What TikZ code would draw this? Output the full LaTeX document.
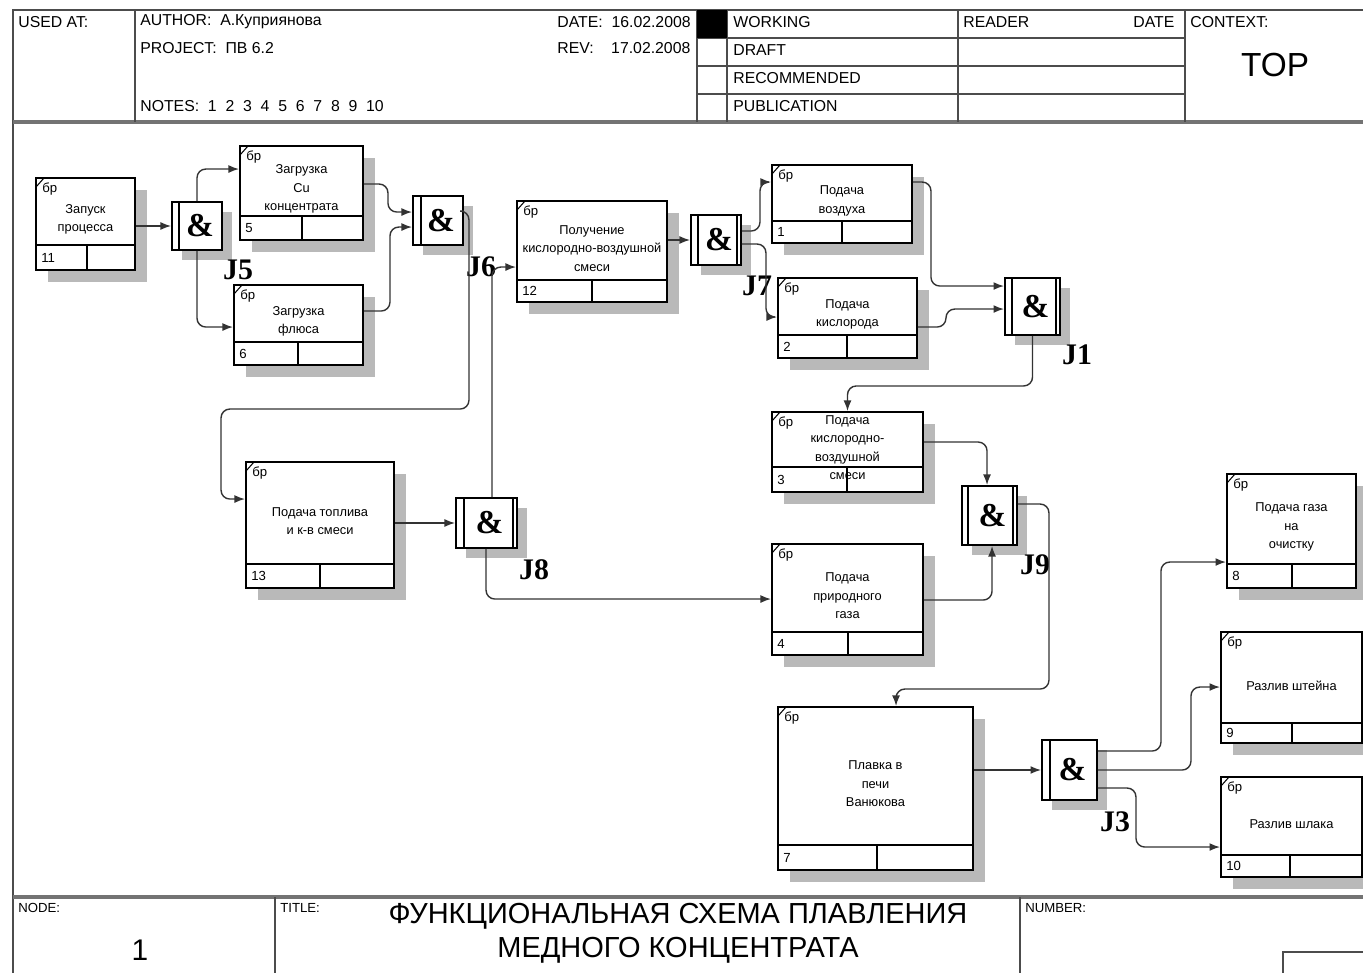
\documentclass[tikz,border=0pt]{standalone}
\usepackage{fontspec}
\setmainfont{Liberation Sans}
\newfontfamily\jfont{Liberation Serif}
\usetikzlibrary{arrows.meta, positioning, calc, fit}

\tikzset{
  frame/.style={draw=black!70, line width=0.9pt},
  heavy/.style={draw=black!55, line width=1.8pt},
  hdr/.style={font=\fontsize{9}{10}\selectfont, anchor=west, inner sep=0pt},
  uob/.style={draw=black, line width=1.1pt, fill=white, inner sep=0pt},
  uobline/.style={draw=black, line width=1pt},
  uobtext/.style={font=\fontsize{7.3}{10.5}\selectfont, align=center, inner sep=0pt},
  uobnum/.style={font=\fontsize{7.5}{8}\selectfont, anchor=west, inner sep=0pt},
  uobtag/.style={font=\fontsize{7.5}{8}\selectfont, anchor=north west, inner sep=0pt},
  dropshadow/.style={fill=gray!55},
  jbox/.style={draw=black, line width=1.1pt, fill=white, inner sep=0pt},
  amp/.style={font=\jfont\bfseries\fontsize{19}{19}\selectfont, inner sep=0pt},
  jlabel/.style={font=\jfont\bfseries\fontsize{17}{17}\selectfont, inner sep=0pt},
  arr/.style={-{Latex[length=6pt, width=4.5pt]}, line width=0.8pt, draw=black!80, rounded corners=5pt},
}

% unit of behaviour: name, x1, y1, x2, y2, strip y, divider x, number, text
\newcommand{\uob}[9]{%
  \fill[dropshadow] (#2+12,#3+12) rectangle (#4+12,#5+12);
  \node[uob, fit={(#2,#3) (#4,#5)}] (#1) {};
  \draw[uobline] (#2,#6) -- (#4,#6) (#7,#6) -- (#7,#5);
  \node[uobnum] at (#2+5,{(#6+#5)/2}) {#8};
  \node[uobtext] at ({(#2+#4)/2},{(#3+#6)/2+8}) {#9};
  \draw[line width=0.6pt] (#2,#3+9) -- (#2+8,#3);
  \node[uobtag] at (#2+6,#3+4) {бр};
}

% junction: name, x1, y1, x2, y2
\newcommand{\junc}[5]{%
  \fill[dropshadow] (#2+10,#3+10) rectangle (#4+10,#5+10);
  \node[jbox, fit={(#2,#3) (#4,#5)}] (#1) {};
  \node[amp] at ({(#2+#4)/2+3},{(#3+#5)/2}) {\&};
}

\begin{document}
\begin{tikzpicture}[x=0.02cm, y=-0.02cm]
  \useasboundingbox (0,0) rectangle (1363,973);

  % Header frame
  \draw[frame] (13,973) -- (13,10) -- (1363,10);
  \draw[heavy] (13,122) -- (1363,122);
  \foreach \xv in {135, 697, 727, 958, 1185}
    \draw[frame] (\xv,10) -- (\xv,122);
  \foreach \yv in {38, 66, 94}
    \draw[frame] (697,\yv) -- (1185,\yv);
  \fill[black] (697,10) rectangle (727,38);

  \node[hdr] (usedat) at (18,22)  {USED AT:};
  \node[hdr] (author) at (140,22) {AUTHOR:\ \ A.Куприянова};
  \node[hdr] (project) at (140,48) {PROJECT:\ \ ПВ 6.2};
  \node[hdr] (notes) at (140,106) {NOTES:\ \ 1\ \ 2\ \ 3\ \ 4\ \ 5\ \ 6\ \ 7\ \ 8\ \ 9\ \ 10};
  \node[hdr] (date) at (557,22)   {DATE:\ \ 16.02.2008};
  \node[hdr] (rev) at (557,48)    {REV:\ \ \ \ 17.02.2008};
  \node[hdr] (working) at (733,22) {WORKING};
  \node[hdr] (draft) at (733,50)   {DRAFT};
  \node[hdr] (recomm) at (733,78)  {RECOMMENDED};
  \node[hdr] (public) at (733,106) {PUBLICATION};
  \node[hdr] (reader) at (963,22)  {READER};
  \node[hdr] (rdate) at (1133,22)  {DATE};
  \node[hdr] (context) at (1190,22) {CONTEXT:};
  \node[font=\fontsize{19}{19}\selectfont] (top) at (1275,65) {TOP};

  % Footer
  \draw[heavy] (13,897) -- (1363,897);
  \draw[frame] (275,897) -- (275,973);
  \draw[frame] (1020,897) -- (1020,973);
  \draw[frame] (1283,973) -- (1283,952) -- (1363,952);
  \node[hdr, font=\fontsize{7.5}{8}\selectfont] (nodelbl) at (18,908) {NODE:};
  \node[font=\fontsize{17}{17}\selectfont] (nodenum) at (140,950) {1};
  \node[hdr, font=\fontsize{7.5}{8}\selectfont] (titlelbl) at (280,908) {TITLE:};
  \node[font=\fontsize{16.5}{19.5}\selectfont, align=center] (title) at (678,933)
    {ФУНКЦИОНАЛЬНАЯ СХЕМА ПЛАВЛЕНИЯ\\МЕДНОГО КОНЦЕНТРАТА};
  \node[hdr, font=\fontsize{7.5}{8}\selectfont] (numlbl) at (1025,908) {NUMBER:};

  % Units of behaviour
  \uob{b11}{36}{178}{135}{270}{245}{87}{11}{Запуск\\процесса}
  \uob{b5}{240}{146}{363}{240}{216}{302}{5}{Загрузка\\Cu\\концентрата}
  \uob{b6}{234}{285}{363}{365}{342}{298}{6}{Загрузка\\флюса}
  \uob{b12}{517}{201}{667}{302}{280}{592}{12}{Получение\\кислородно-воздушной\\смеси}
  \uob{b1}{772}{165}{912}{243}{221}{842}{1}{Подача\\воздуха}
  \uob{b2}{778}{278}{917}{358}{335}{847}{2}{Подача\\кислорода}
  \uob{b3}{772}{412}{923}{492}{467}{847}{3}{Подача\\кислородно-\\воздушной\\смеси}
  \uob{b4}{772}{544}{923}{655}{632}{848}{4}{Подача\\природного\\газа}
  \uob{b13}{246}{462}{394}{588}{564}{320}{13}{Подача топлива\\и к-в смеси}
  \uob{b7}{778}{707}{973}{870}{845}{877}{7}{Плавка в\\печи\\Ванюкова}
  \uob{b8}{1227}{474}{1356}{588}{564}{1292}{8}{Подача газа\\на\\очистку}
  \uob{b9}{1221}{632}{1362}{743}{723}{1292}{9}{Разлив штейна}
  \uob{b10}{1221}{777}{1362}{877}{855}{1290}{10}{Разлив шлака}

  % Junctions
  \junc{j5}{172}{202}{222}{250}
  \junc{j6}{413}{196}{463}{245}
  \junc{j7}{691}{215}{741}{265}
  \junc{j1}{1005}{278}{1060}{335}
  \junc{j9}{962}{486}{1017}{545}
  \junc{j8}{456}{498}{517}{548}
  \junc{j3}{1042}{740}{1097}{800}

  \foreach \jn/\dl in {j5/8, j6/9, j7/8, j1/8, j9/7, j8/9, j3/9}
    \draw[uobline] ($(\jn.north west)+(\dl,0)$) -- ($(\jn.south west)+(\dl,0)$);
  \foreach \jn in {j7, j1, j9, j8}
    \draw[uobline] ($(\jn.north east)+(-5,0)$) -- ($(\jn.south east)+(-5,0)$);

  \node[jlabel] (l5) at (238,270) {J5};
  \node[jlabel] (l6) at (481,267) {J6};
  \node[jlabel] (l7) at (757,286) {J7};
  \node[jlabel] (l1) at (1077,355) {J1};
  \node[jlabel] (l9) at (1035,565) {J9};
  \node[jlabel] (l8) at (534,570) {J8};
  \node[jlabel] (l3) at (1115,822) {J3};

  % Links
  \draw[arr] (b11.east |- j5.west) -- (j5.west);
  \draw[arr] (j5.north) |- ($(b5.north west)+(0,24)$);
  \draw[arr] (j5.south) |- ($(b6.north west)+(0,43)$);
  \draw[arr] ($(b5.north east)+(0,39)$) -- ++(24,0) |- ($(j6.north west)+(0,17)$);
  \draw[arr] ($(b6.north east)+(0,27)$) -- ++(26,0) |- ($(j6.north west)+(0,32)$);
  \draw[arr] ($(j6.north east)+(0,16)$) -- ++(5,0) -- ++(0,198)
    -| ($(b13.north west)+(-24,38)$) -- ($(b13.north west)+(0,38)$);
  \draw[arr] ($(j8.north west)+(37,0)$) |- ($(b12.north west)+(0,67)$);
  \draw[arr] (b12.east |- j7.west) -- (j7.west);
  \draw[arr] ($(j7.north east)+(0,17)$) -- ++(18,0) |- ($(b1.north west)+(0,18)$);
  \draw[arr] ($(j7.north east)+(0,30)$) -- ++(24,0) |- ($(b2.north west)+(0,40)$);
  \draw[arr] ($(b1.north east)+(0,18)$) -- ++(18,0) |- ($(j1.north west)+(0,9)$);
  \draw[arr] ($(b2.north east)+(0,50)$) -- ++(28,0) |- ($(j1.north west)+(0,32)$);
  \draw[arr] (j1.south) -- ++(0,50) -| (b3.north);
  \draw[arr] ($(b3.north east)+(0,31)$) -| ($(j9.north west)+(26,0)$);
  \draw[arr] ($(b4.north east)+(0,57)$) -| ($(j9.south west)+(31,0)$);
  \draw[arr] ($(j9.north east)+(0,19)$) -- ++(31,0) -- ++(0,185) -| ($(b7.north west)+(119,0)$);
  \draw[arr] (b13.east |- j8.west) -- (j8.west);
  \draw[arr] ($(j8.south west)+(31,0)$) |- ($(b4.north west)+(0,56)$);
  \draw[arr] (b7.east |- j3.west) -- (j3.west);
  \draw[arr] ($(j3.north east)+(0,12)$) -- ++(63,0) |- ($(b8.north west)+(0,89)$);
  \draw[arr] ($(j3.north east)+(0,31)$) -- ++(93,0) |- ($(b9.north west)+(0,56)$);
  \draw[arr] ($(j3.north east)+(0,49)$) -- ++(38,0) |- ($(b10.north west)+(0,71)$);
\end{tikzpicture}
\end{document}
